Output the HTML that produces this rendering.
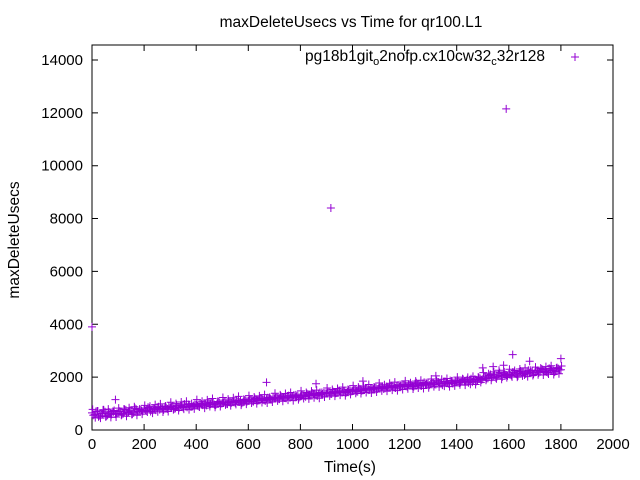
<!DOCTYPE html>
<html><head><meta charset="utf-8">
<style>
html,body{margin:0;padding:0;background:#fff;}
svg{display:block;font-family:"Liberation Sans",sans-serif;}
</style></head>
<body>
<svg id="chart" width="640" height="480" viewBox="0 0 640 480">
<text x="351" y="27" font-size="15.5" text-anchor="middle">maxDeleteUsecs vs Time for qr100.L1</text>
<text x="0" y="0" font-size="15.5" text-anchor="middle" transform="translate(19,240) rotate(-90)">maxDeleteUsecs</text>
<text x="350" y="472" font-size="15.5" text-anchor="middle">Time(s)</text>
<g id="axes"></g>
<g id="marks"></g>
<g>
<text x="545" y="61" font-size="15.5" text-anchor="end">pg18b1git<tspan font-size="11" dy="4">o</tspan><tspan dy="-4">2nofp.cx10cw32</tspan><tspan font-size="11" dy="4">c</tspan><tspan dy="-4">32r128</tspan></text>
<path d="M571,57h8M575,53v8" stroke="#9400d3" stroke-width="1"/>
</g>
</svg>
<script>
const xTicks=[0,200,400,600,800,1000,1200,1400,1600,1800,2000];
const yTicks=[0,2000,4000,6000,8000,10000,12000,14000];
const valuesA=[650,580,720,540,610,690,560,630,700,600,
640,700,620,760,680,720,650,780,700,740,
790,720,830,760,810,850,770,820,880,800,
840,900,820,870,930,850,890,960,870,920,
950,900,980,1000,930,970,1020,960,1000,1040,
1010,1060,980,1050,1090,1030,1070,1100,1050,1120,
1100,1140,1080,1160,1120,1180,1130,1170,1200,1150,
1190,1230,1170,1250,1210,1260,1220,1280,1240,1300,
1270,1320,1260,1340,1300,1360,1310,1380,1340,1400,
1380,1420,1360,1440,1400,1460,1420,1480,1440,1500,
1470,1520,1450,1540,1500,1560,1510,1580,1540,1600,
1570,1620,1550,1640,1600,1660,1610,1680,1640,1700,
1690,1640,1720,1660,1750,1700,1680,1760,1710,1780,
1740,1790,1720,1810,1760,1830,1780,1740,1850,1800,
1820,1780,1870,1830,1900,1850,1810,1920,1880,1950,
1920,2000,1960,2100,2040,1980,2120,2060,2150,2080,
2120,2060,2180,2110,2200,2140,2080,2220,2160,2240,
2180,2250,2200,2290,2230,2170,2300,2260,2220,2320,2280];
const valuesB=[560,700,500,640,760,520,680,590,740,620,
710,590,780,650,730,600,820,690,760,710,
740,860,700,800,750,880,810,760,840,900,
870,800,940,850,900,980,860,930,890,970,
920,1010,940,990,1050,980,1030,940,1070,1000,
1040,990,1100,1030,1080,1120,1060,1010,1130,1080,
1150,1090,1190,1110,1210,1150,1100,1220,1170,1240,
1220,1180,1280,1230,1200,1300,1250,1320,1270,1230,
1320,1290,1370,1310,1400,1340,1290,1420,1360,1380,
1410,1370,1450,1390,1480,1430,1470,1410,1510,1460,
1500,1460,1560,1490,1530,1590,1520,1560,1610,1550,
1600,1650,1580,1620,1680,1630,1590,1700,1660,1720,
1660,1730,1700,1640,1790,1730,1670,1800,1740,1700,
1780,1730,1820,1770,1700,1840,1800,1870,1760,1830,
1870,1800,1910,1860,1790,1940,1890,1840,1980,1900,
2010,1950,2060,1990,2110,2030,2170,2010,2100,2050,
2090,2190,2130,2050,2230,2170,2120,2260,2190,2110,
2230,2160,2310,2240,2200,2330,2250,2190,2360,2270];
const valuesC=[780,470,720,450,760,500,790,480,690,490,
830,560,790,520,840,590,880,560,790,600,
930,680,900,640,960,690,990,680,910,700,
1050,770,1000,740,1060,790,1090,770,1000,800,
1150,870,1090,830,1140,890,1190,860,1080,890,
1230,950,1170,920,1220,970,1270,940,1160,980,
1300,1020,1250,1000,1290,1040,1340,1020,1240,1060,
1390,1100,1330,1090,1380,1130,1420,1110,1330,1150,
1480,1190,1420,1180,1470,1220,1510,1200,1420,1250,
1590,1290,1530,1280,1570,1320,1620,1300,1530,1350,
1680,1390,1620,1380,1670,1420,1720,1400,1620,1440,
1780,1480,1710,1470,1770,1510,1810,1490,1710,1530,
1860,1560,1790,1550,1850,1590,1880,1570,1790,1600,
1930,1640,1870,1630,1920,1660,1950,1640,1860,1670,
2000,1710,1940,1700,1990,1730,2030,1720,2000,1800,
2170,1880,2130,1880,2200,1940,2260,1920,2200,1980,
2300,2010,2250,2000,2310,2050,2350,2020,2260,2060,
2380,2090,2340,2080,2400,2120,2430,2100,2340,2130,2420];
const outlierTimes=[0,917,1590,1615,1680,1800,90,670,860,1540,1040,1320,1580,1500];
const outlierValues=[3900,8400,12150,2850,2600,2700,1150,1800,1750,2400,1850,2050,2450,2350];
const X0=92,X1=613,Y0=430,Y1=45;
function sx(v){return X0+v/2000*(X1-X0);}
function sy(v){return Y0-v/1000*26.43;}
const ns='http://www.w3.org/2000/svg';
const axes=document.getElementById('axes');
const marks=document.getElementById('marks');
function mk(tag,attrs,parent){const e=document.createElementNS(ns,tag);for(const k in attrs)e.setAttribute(k,attrs[k]);parent.appendChild(e);return e;}
const frame=mk('rect',{x:X0,y:Y1,width:X1-X0,height:Y0-Y1,fill:'none',stroke:'#000','stroke-width':1},axes);


xTicks.forEach(t=>{const x=sx(t);
const l=mk('path',{d:`M${x},${Y0}v-6M${x},${Y1}v6`,stroke:'#000'},axes);


const tx=mk('text',{x:x,y:Y0+19,'font-size':15,'text-anchor':'middle'},axes);tx.textContent=t;

});
yTicks.forEach(t=>{const y=sy(t);
const l=mk('path',{d:`M${X0},${y}h6M${X1},${y}h-6`,stroke:'#000'},axes);


const tx=mk('text',{x:X0-9,y:y+5,'font-size':15,'text-anchor':'end'},axes);tx.textContent=t;

});
function pt(t,v){const x=sx(t),y=sy(v);
const p=mk('path',{d:`M${x-4},${y}h8M${x},${y-4}v8`,stroke:'#9400d3','stroke-width':1},marks);

}
valuesA.forEach((v,i)=>pt(i*10,v));
valuesB.forEach((v,i)=>pt(i*10+5,v));
valuesC.forEach((v,i)=>pt(i*10+2.5,v));
outlierTimes.forEach((t,i)=>pt(t,outlierValues[i]));
</script>
</body></html>
